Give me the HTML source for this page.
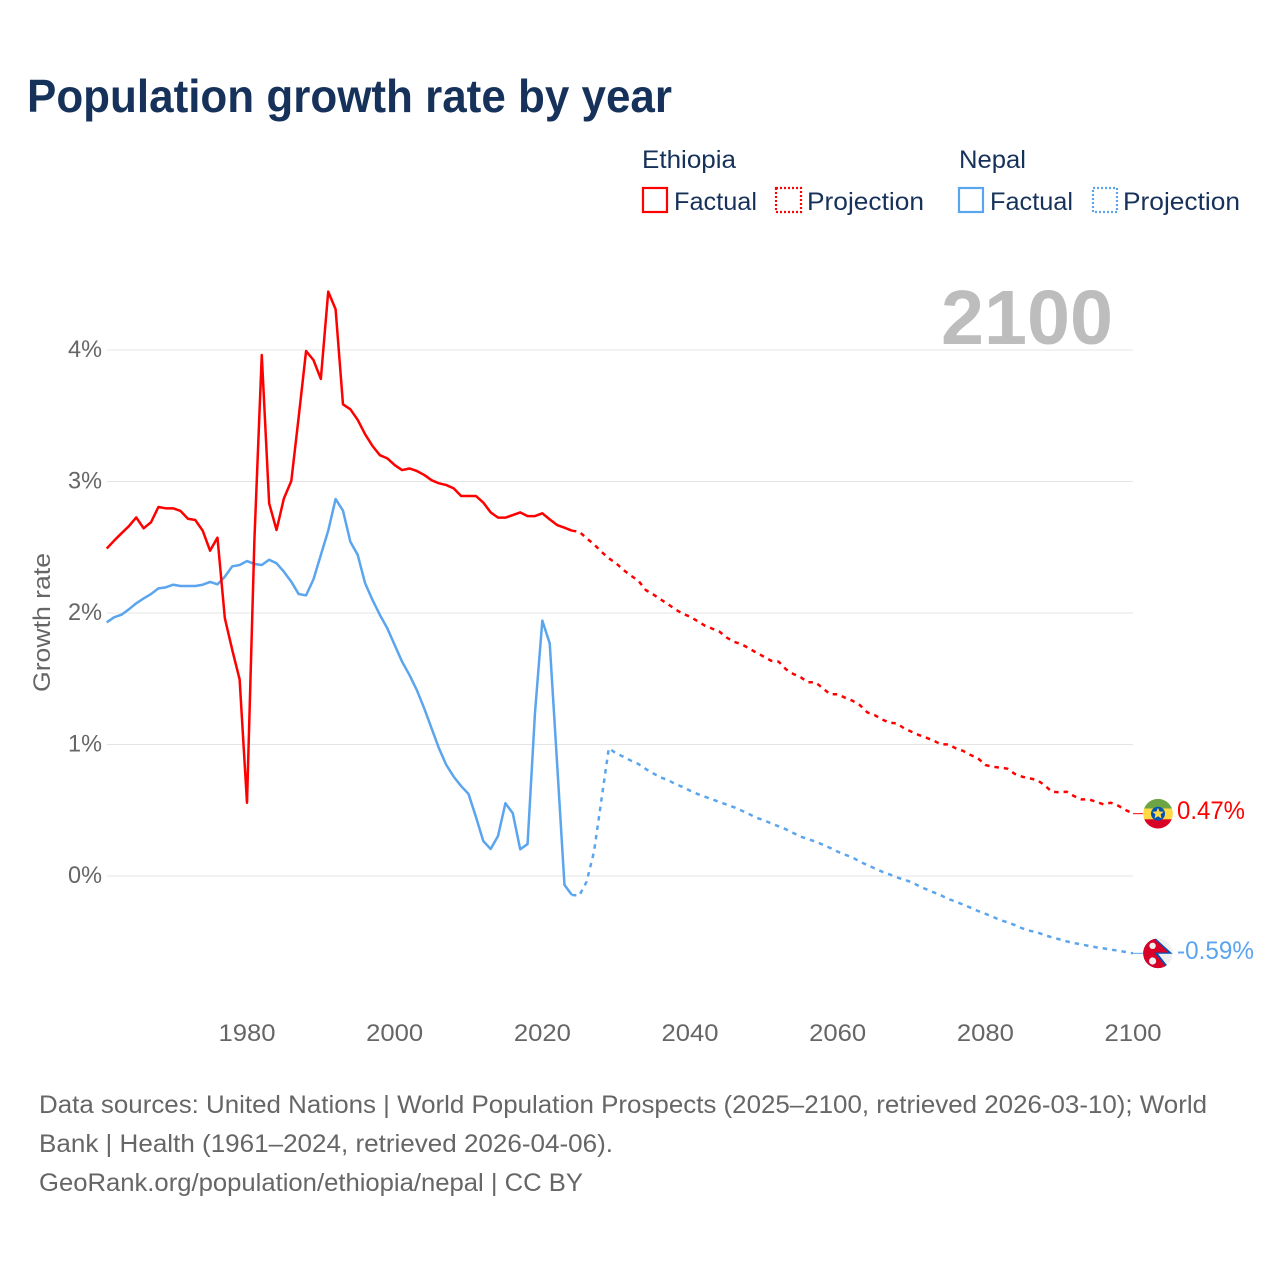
<!DOCTYPE html>
<html lang="en">
<head>
<meta charset="utf-8">
<title>Population growth rate by year</title>
<style>
html,body{margin:0;padding:0;background:#fff;}
svg{display:block;}
text{font-family:"Liberation Sans",sans-serif;}
</style>
</head>
<body>
<svg id="chart" xmlns="http://www.w3.org/2000/svg" width="1280" height="1280" viewBox="0 0 1280 1280">
  <defs>
    <clipPath id="clip-eth"><circle cx="1158" cy="813.7" r="14.8"/></clipPath>
    <clipPath id="clip-npl"><circle cx="1158" cy="953.3" r="14.8"/></clipPath>
  </defs>
  <rect x="0" y="0" width="1280" height="1280" fill="#ffffff"/>
  <text x="27" y="112" font-size="46" font-weight="700" fill="#17325a" textLength="645" lengthAdjust="spacingAndGlyphs">Population growth rate by year</text>

  <g>
    <text x="642" y="168" font-size="25" fill="#17325a" textLength="94" lengthAdjust="spacingAndGlyphs">Ethiopia</text>
    <text x="959" y="168" font-size="25" fill="#17325a" textLength="67" lengthAdjust="spacingAndGlyphs">Nepal</text>
    <rect x="643" y="188" width="24" height="24" fill="none" stroke="#ff0000" stroke-width="2.2"/>
    <text x="674" y="210" font-size="25" fill="#17325a" textLength="83" lengthAdjust="spacingAndGlyphs">Factual</text>
    <rect x="776" y="188" width="25" height="24" fill="none" stroke="#ff0000" stroke-width="2.2" stroke-dasharray="2 2"/>
    <text x="807" y="210" font-size="25" fill="#17325a" textLength="117" lengthAdjust="spacingAndGlyphs">Projection</text>
    <rect x="959" y="188" width="24" height="24" fill="none" stroke="#5aa5ee" stroke-width="2.2"/>
    <text x="990" y="210" font-size="25" fill="#17325a" textLength="83" lengthAdjust="spacingAndGlyphs">Factual</text>
    <rect x="1093" y="188" width="24" height="24" fill="none" stroke="#5aa5ee" stroke-width="2.2" stroke-dasharray="2 2"/>
    <text x="1123" y="210" font-size="25" fill="#17325a" textLength="117" lengthAdjust="spacingAndGlyphs">Projection</text>
  </g>

  <g id="grid"></g>
  <g id="yticks"></g>
  <g id="xticks"></g>
  <text x="0" y="0" transform="translate(50,692) rotate(-90)" font-size="24" fill="#666666" textLength="139" lengthAdjust="spacingAndGlyphs">Growth rate</text>
  <text x="941" y="344" font-size="77" font-weight="700" fill="#bdbdbd" textLength="172" lengthAdjust="spacingAndGlyphs">2100</text>
  <g id="series"></g>

  <g clip-path="url(#clip-eth)">
    <rect x="1143" y="798" width="30" height="11" fill="#6da544"/>
    <rect x="1143" y="808.5" width="30" height="11" fill="#ffda44"/>
    <rect x="1143" y="819.3" width="30" height="11" fill="#d80027"/>
    <circle cx="1158" cy="813.7" r="7" fill="#0052b4"/>
    <path d="M1158 807.7 L1159.6 811.5 L1163.7 811.8 L1160.6 814.4 L1161.5 818.4 L1158 816.3 L1154.5 818.4 L1155.4 814.4 L1152.3 811.8 L1156.4 811.5 Z" fill="#ffda44"/>
  </g>
  <g clip-path="url(#clip-npl)">
    <rect x="1143" y="938" width="30" height="31" fill="#f0f0f0"/>
    <path d="M1143 936 L1153 936 L1172.5 953.8 L1158 953.8 L1170 969 L1143 969 Z" fill="#0052b4"/>
    <path d="M1143 936 L1151.5 936 L1168.5 952.5 L1154.5 952.5 L1168 969 L1143 969 Z" fill="#d80027"/>
    <circle cx="1152.6" cy="945.8" r="3.2" fill="#f0f0f0"/>
    <circle cx="1152.6" cy="961" r="3.6" fill="#f0f0f0"/>
  </g>

  <text x="1177" y="819" font-size="25" fill="#ff0000" textLength="68" lengthAdjust="spacingAndGlyphs">0.47%</text>
  <text x="1177" y="959" font-size="25" fill="#5aa5ee" textLength="77" lengthAdjust="spacingAndGlyphs">-0.59%</text>

  <g fill="#666666" font-size="25">
    <text x="39" y="1113" textLength="1168" lengthAdjust="spacingAndGlyphs">Data sources: United Nations | World Population Prospects (2025–2100, retrieved 2026-03-10); World</text>
    <text x="39" y="1152" textLength="574" lengthAdjust="spacingAndGlyphs">Bank | Health (1961–2024, retrieved 2026-04-06).</text>
    <text x="39" y="1191" textLength="544" lengthAdjust="spacingAndGlyphs">GeoRank.org/population/ethiopia/nepal | CC BY</text>
  </g>
</svg>
<script>
const xTickYears = [1980, 2000, 2020, 2040, 2060, 2080, 2100];
const yTickValues = [0, 1, 2, 3, 4];
const factualStartYear = 1961;
const projectionStartYear = 2024;
const ethiopiaFactual = [2.49,2.55,2.606,2.66,2.727,2.644,2.69,2.806,2.796,2.796,2.776,2.717,2.707,2.626,2.474,2.573,1.96,1.72,1.495,0.557,2.55,3.962,2.834,2.631,2.872,3.004,3.49,3.992,3.924,3.78,4.444,4.31,3.587,3.549,3.468,3.359,3.27,3.2,3.176,3.125,3.087,3.099,3.08,3.05,3.01,2.986,2.973,2.948,2.89,2.89,2.89,2.84,2.765,2.725,2.725,2.745,2.765,2.737,2.737,2.758,2.712,2.669,2.649,2.626];
const ethiopiaProjection = [2.626,2.618,2.568,2.522,2.466,2.416,2.378,2.327,2.284,2.246,2.175,2.142,2.104,2.068,2.028,1.995,1.972,1.939,1.904,1.881,1.858,1.812,1.78,1.762,1.731,1.698,1.668,1.637,1.63,1.572,1.536,1.511,1.473,1.473,1.427,1.382,1.382,1.356,1.333,1.30,1.245,1.224,1.191,1.166,1.161,1.123,1.097,1.072,1.052,1.029,1.001,1.001,0.971,0.951,0.92,0.895,0.844,0.831,0.824,0.816,0.776,0.755,0.743,0.73,0.692,0.641,0.636,0.641,0.608,0.583,0.583,0.565,0.545,0.557,0.535,0.502,0.474];
const nepalFactual = [1.929,1.967,1.987,2.028,2.074,2.111,2.144,2.187,2.195,2.215,2.205,2.205,2.205,2.215,2.236,2.218,2.276,2.355,2.365,2.395,2.373,2.365,2.405,2.378,2.314,2.238,2.144,2.134,2.256,2.441,2.626,2.867,2.778,2.542,2.441,2.226,2.099,1.985,1.884,1.757,1.63,1.529,1.414,1.275,1.123,0.971,0.844,0.755,0.684,0.624,0.451,0.266,0.205,0.304,0.553,0.477,0.203,0.243,1.237,1.942,1.769,0.857,-0.068,-0.144];
const nepalProjection = [-0.144,-0.149,-0.043,0.185,0.578,0.971,0.933,0.907,0.877,0.852,0.814,0.781,0.75,0.73,0.70,0.677,0.649,0.624,0.603,0.583,0.563,0.542,0.522,0.497,0.471,0.443,0.424,0.40,0.378,0.355,0.327,0.299,0.281,0.261,0.238,0.213,0.185,0.162,0.142,0.109,0.084,0.058,0.033,0.013,-0.01,-0.028,-0.046,-0.076,-0.101,-0.124,-0.147,-0.175,-0.195,-0.218,-0.241,-0.266,-0.287,-0.31,-0.335,-0.352,-0.373,-0.398,-0.416,-0.428,-0.449,-0.466,-0.481,-0.497,-0.51,-0.52,-0.532,-0.542,-0.55,-0.56,-0.568,-0.578,-0.588];

const NS = 'http://www.w3.org/2000/svg';
function xScale(year) { return 247 + (year - 1980) * (1133 - 247) / 120; }
function yScale(value) { return 876 - value * 131.5; }
function pathFrom(values, startYear) {
  return values.map(function (v, i) {
    return (i ? 'L' : 'M') + xScale(startYear + i).toFixed(2) + ' ' + yScale(v).toFixed(2);
  }).join(' ');
}

const gridGroup = document.getElementById('grid');
const yTickGroup = document.getElementById('yticks');
const xTickGroup = document.getElementById('xticks');
const seriesGroup = document.getElementById('series');

yTickValues.forEach(function (v) {
  const line = document.createElementNS(NS, 'line');
  line.setAttribute('x1', xScale(1961));
  line.setAttribute('x2', 1133);
  line.setAttribute('y1', yScale(v));
  line.setAttribute('y2', yScale(v));
  line.setAttribute('stroke', '#e4e4e4');
  line.setAttribute('stroke-width', '1');
  
  
  gridGroup.appendChild(line);

  const label = document.createElementNS(NS, 'text');
  label.setAttribute('x', 68);
  label.setAttribute('y', yScale(v) + 7);
  label.setAttribute('font-size', '24');
  label.setAttribute('fill', '#666666');
  label.setAttribute('textLength', '34');
  label.setAttribute('lengthAdjust', 'spacingAndGlyphs');
  
  
  label.textContent = v + '%';
  yTickGroup.appendChild(label);
});

xTickYears.forEach(function (year) {
  const label = document.createElementNS(NS, 'text');
  label.setAttribute('x', xScale(year) - 28.5);
  label.setAttribute('y', 1041);
  label.setAttribute('font-size', '24');
  label.setAttribute('fill', '#666666');
  label.setAttribute('textLength', '57');
  label.setAttribute('lengthAdjust', 'spacingAndGlyphs');
  
  
  label.textContent = String(year);
  xTickGroup.appendChild(label);
});

function addLine(values, startYear, color, dashed, name) {
  const p = document.createElementNS(NS, 'path');
  p.setAttribute('d', pathFrom(values, startYear));
  p.setAttribute('fill', 'none');
  p.setAttribute('stroke', color);
  p.setAttribute('stroke-width', dashed ? '2.5' : '2.5');
  p.setAttribute('stroke-linejoin', 'round');
  if (dashed) { p.setAttribute('stroke-dasharray', '4.5 5'); }
  
  
  seriesGroup.appendChild(p);
}
function addConnector(value, color, name) {
  const c = document.createElementNS(NS, 'line');
  c.setAttribute('x1', xScale(2100));
  c.setAttribute('x2', 1143);
  c.setAttribute('y1', yScale(value));
  c.setAttribute('y2', yScale(value));
  c.setAttribute('stroke', color);
  c.setAttribute('stroke-width', '1');
  
  
  seriesGroup.appendChild(c);
}
addLine(nepalFactual, factualStartYear, '#5aa5ee', false, 'nepal-factual-line');
addLine(nepalProjection, projectionStartYear, '#5aa5ee', true, 'nepal-projection-line');
addLine(ethiopiaFactual, factualStartYear, '#ff0000', false, 'ethiopia-factual-line');
addLine(ethiopiaProjection, projectionStartYear, '#ff0000', true, 'ethiopia-projection-line');
addConnector(ethiopiaProjection[ethiopiaProjection.length - 1], '#ff0000', 'ethiopia-flag-connector');
addConnector(nepalProjection[nepalProjection.length - 1], '#5aa5ee', 'nepal-flag-connector');
</script>
</body>
</html>
